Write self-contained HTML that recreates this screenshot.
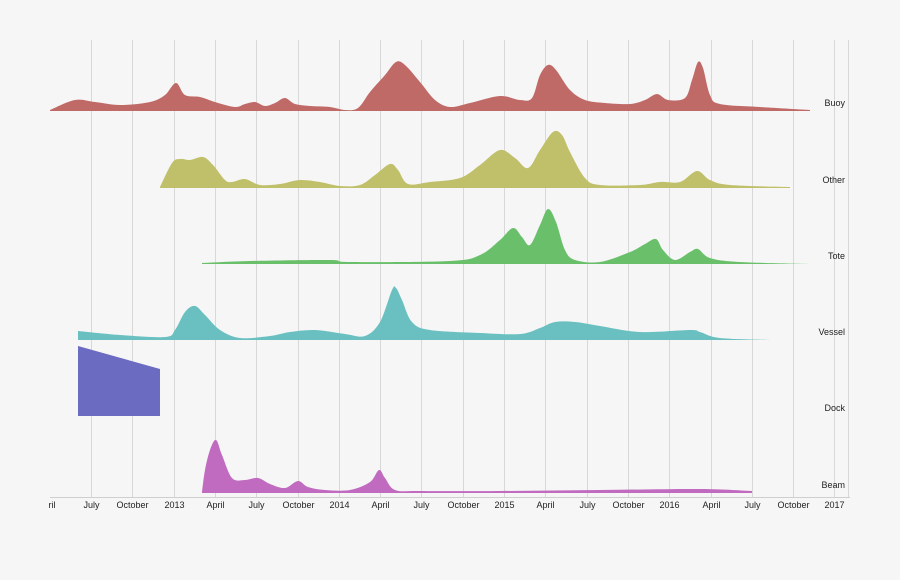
<!DOCTYPE html>
<html><head><meta charset="utf-8"><style>
html,body{margin:0;padding:0;background:#f6f6f6;}
svg{display:block;font-family:"Liberation Sans",sans-serif;}
</style></head><body>
<svg id="s" width="900" height="580" viewBox="0 0 900 580">
<rect width="900" height="580" fill="#f6f6f6"/>
<g id="grid" stroke="#d8d8d8" stroke-width="1"></g>
<g id="areas"></g>
<line x1="50" y1="497.5" x2="850" y2="497.5" stroke="#cfcfcf"/>
<g id="ticks" font-size="9" fill="#222" text-anchor="middle"></g>
<g font-size="9" fill="#222" text-anchor="end">
<text x="845" y="106">Buoy</text>
<text x="845" y="183">Other</text>
<text x="845" y="259">Tote</text>
<text x="845" y="335">Vessel</text>
<text x="845" y="411">Dock</text>
<text x="845" y="488">Beam</text>
</g>
</svg>
<script>
var NS="http://www.w3.org/2000/svg";
var labs=["July","October","2013","April","July","October","2014","April","July","October","2015","April","July","October","2016","April","July","October","2017"];
var g=document.getElementById("grid"),t=document.getElementById("ticks");
for(var i=0;i<labs.length;i++){var x=Math.round(91+i*41.3)+0.5;
var l=document.createElementNS(NS,"line");l.setAttribute("x1",x);l.setAttribute("x2",x);l.setAttribute("y1",40);l.setAttribute("y2",497);g.appendChild(l);
var tx=document.createElementNS(NS,"text");tx.setAttribute("x",x);tx.setAttribute("y",508);tx.textContent=labs[i];t.appendChild(tx);}
var l2=document.createElementNS(NS,"line");l2.setAttribute("x1",848.5);l2.setAttribute("x2",848.5);l2.setAttribute("y1",40);l2.setAttribute("y2",497);g.appendChild(l2);
var tx=document.createElementNS(NS,"text");tx.setAttribute("x",52);tx.setAttribute("y",508);tx.textContent="ril";t.appendChild(tx);
function smooth(p){var d="M"+p[0][0]+","+p[0][1];for(var i=0;i<p.length-1;i++){var p0=p[i-1]||p[i],p1=p[i],p2=p[i+1],p3=p[i+2]||p2;
var c1=[p1[0]+(p2[0]-p0[0])/6,p1[1]+(p2[1]-p0[1])/6],c2=[p2[0]-(p3[0]-p1[0])/6,p2[1]-(p3[1]-p1[1])/6];
d+="C"+c1[0].toFixed(1)+","+c1[1].toFixed(1)+" "+c2[0].toFixed(1)+","+c2[1].toFixed(1)+" "+p2[0]+","+p2[1];}return d;}
function area(pts,base,col){var p=document.createElementNS(NS,"path");var f=pts[0],e=pts[pts.length-1];
p.setAttribute("d",smooth(pts)+"L"+e[0]+","+base+"L"+f[0]+","+base+"Z");p.setAttribute("fill",col);document.getElementById("areas").appendChild(p);}
area([[50,110],[75,100],[95,102],[120,105],[150,102],[165,95],[176,83],[185,95],[200,97],[215,102],[235,107],[245,104],[255,102],[265,106],[275,103],[285,98],[295,104],[310,106],[330,107],[345,110],[358,108],[370,92],[385,75],[396,62],[405,65],[420,82],[435,100],[450,107],[470,103],[500,96],[520,100],[532,98],[540,75],[548,65],[556,70],[570,90],[585,100],[605,103],[630,104],[645,100],[657,94],[668,100],[685,98],[692,80],[698,62],[703,68],[710,95],[720,104],[760,107],[810,110]],111,"#c06a68");
area([[160,187],[172,163],[180,159],[190,160],[203,157],[213,165],[225,180],[232,182],[245,179],[260,185],[280,184],[300,180],[320,182],[340,186],[360,185],[375,175],[390,164],[398,170],[408,184],[430,182],[460,178],[480,165],[500,150],[515,158],[528,168],[540,150],[553,132],[562,135],[570,152],[585,178],[600,185],[640,185],[660,182],[680,182],[697,171],[710,180],[730,185],[790,187]],188,"#c0c06a");
area([[202,263],[250,261],[330,260],[350,262],[450,261],[480,255],[500,240],[513,228],[522,237],[530,245],[540,225],[548,209],[556,222],[565,250],[575,260],[600,262],[630,252],[645,244],[656,239],[663,250],[675,260],[690,252],[698,249],[710,258],[740,262],[810,264]],264,"#6ac06a");
area([[78,331],[120,335],[165,337],[175,330],[185,312],[195,306],[205,315],[220,330],[240,338],[270,336],[290,332],[315,330],[345,334],[365,336],[380,322],[392,290],[396,288],[402,300],[412,322],[430,330],[480,333],[520,334],[540,328],[555,322],[575,322],[600,326],[640,332],[690,330],[700,332],[720,338],[770,340]],340,"#6ac0c0");
var dk=document.createElementNS(NS,"path");dk.setAttribute("d","M78,346L160,369L160,416L78,416Z");dk.setAttribute("fill","#6b6bc1");document.getElementById("areas").appendChild(dk);
area([[202,492],[205,470],[210,450],[216,440],[222,455],[232,478],[245,480],[258,478],[270,484],[285,488],[298,481],[308,487],[325,490],[350,490],[370,482],[379,470],[385,478],[395,490],[420,491],[500,491],[600,490],[700,489],[752,491]],493,"#c06ac0");
</script>
</body></html>
